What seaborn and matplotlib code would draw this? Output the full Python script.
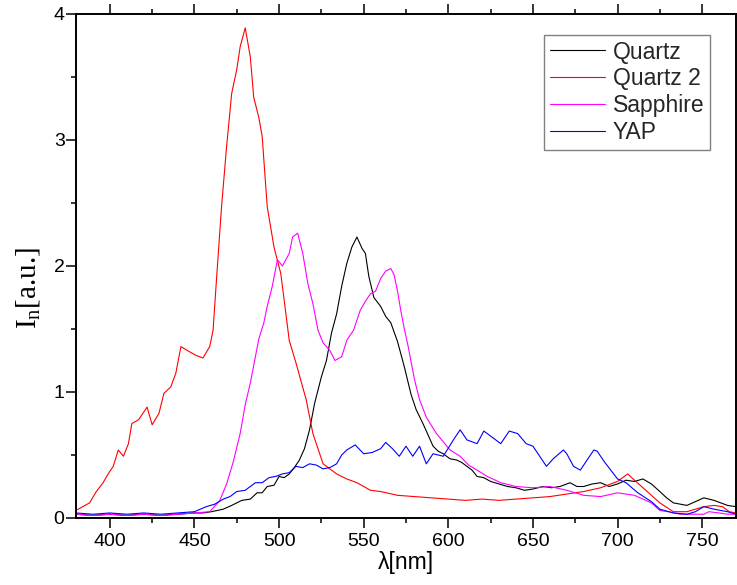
import numpy as np
import pandas as pd
import matplotlib
matplotlib.use("Agg")
import matplotlib.pyplot as plt
import seaborn as sns
from matplotlib.ticker import MultipleLocator

# ---------------- data ----------------
quartz_wl = [380, 390, 400, 410, 420, 430, 440, 450, 455, 460,
             467, 472, 478, 483, 487, 490, 493, 497, 500, 503,
             506, 509, 512, 515, 518, 521, 525, 528, 531, 534,
             537, 540, 543, 546, 549, 551, 553, 556, 560, 563,
             566, 570, 574, 578, 581, 585, 588, 591, 594, 597,
             601, 605, 608, 611, 614, 617, 621, 625, 630, 635,
             640, 645, 650, 656, 661, 666, 672, 676, 680, 685,
             690, 695, 700, 705, 710, 715, 720, 725, 729, 733,
             737, 741, 746, 751, 754, 757, 761, 765, 770]
quartz_I = [0.03, 0.02, 0.03, 0.02, 0.03, 0.02, 0.03, 0.04, 0.04, 0.05,
            0.07, 0.10, 0.14, 0.15, 0.20, 0.20, 0.25, 0.26, 0.33, 0.32,
            0.35, 0.40, 0.46, 0.55, 0.70, 0.91, 1.12, 1.25, 1.47, 1.62,
            1.84, 2.02, 2.15, 2.23, 2.14, 2.10, 1.92, 1.75, 1.68, 1.60,
            1.55, 1.40, 1.20, 0.98, 0.86, 0.75, 0.66, 0.57, 0.53, 0.51,
            0.47, 0.46, 0.44, 0.41, 0.38, 0.33, 0.32, 0.29, 0.27, 0.25,
            0.24, 0.22, 0.23, 0.25, 0.24, 0.25, 0.28, 0.25, 0.25, 0.27,
            0.28, 0.25, 0.27, 0.30, 0.29, 0.31, 0.27, 0.21, 0.16, 0.12,
            0.11, 0.10, 0.13, 0.16, 0.15, 0.14, 0.12, 0.10, 0.09]

quartz2_wl = [380, 384, 388, 392, 396, 399, 402, 405, 408, 411,
              413, 417, 422, 425, 429, 432, 436, 439, 442, 447,
              451, 455, 459, 461, 463, 466, 469, 472, 475, 477,
              480, 483, 485, 488, 490, 493, 495, 497, 501, 503,
              506, 510, 516, 520, 526, 534, 540, 546, 554, 560,
              570, 580, 590, 600, 610, 620, 630, 640, 650, 660,
              670, 680, 690, 700, 706, 710, 715, 720, 725, 733,
              741, 746, 751, 757, 762, 766, 770]
quartz2_I = [0.06, 0.09, 0.12, 0.21, 0.28, 0.35, 0.41, 0.54, 0.49, 0.59,
             0.75, 0.78, 0.88, 0.74, 0.83, 0.99, 1.04, 1.15, 1.36, 1.32,
             1.29, 1.27, 1.36, 1.49, 1.89, 2.47, 2.95, 3.37, 3.56, 3.74,
             3.89, 3.66, 3.34, 3.18, 3.03, 2.47, 2.31, 2.15, 1.94, 1.73,
             1.41, 1.23, 0.94, 0.67, 0.43, 0.35, 0.31, 0.28, 0.22, 0.21,
             0.18, 0.17, 0.16, 0.15, 0.14, 0.15, 0.14, 0.15, 0.16, 0.17,
             0.19, 0.21, 0.24, 0.29, 0.35, 0.30, 0.24, 0.18, 0.12, 0.05,
             0.05, 0.07, 0.09, 0.10, 0.09, 0.05, 0.04]

sapphire_wl = [380, 390, 400, 410, 420, 430, 440, 450, 459, 465,
               469, 473, 477, 480, 483, 488, 491, 493, 496, 499,
               502, 506, 508, 511, 514, 517, 520, 523, 526, 530,
               533, 537, 540, 544, 548, 551, 554, 557, 560, 563,
               566, 568, 570, 572, 574, 576, 580, 583, 587, 593,
               601, 607, 612, 617, 623, 631, 640, 650, 660, 670,
               680, 690, 700, 710, 720, 725, 730, 737, 745, 751,
               754, 760, 765, 770]
sapphire_I = [0.03, 0.02, 0.03, 0.02, 0.03, 0.02, 0.03, 0.04, 0.05, 0.14,
              0.27, 0.45, 0.67, 0.90, 1.07, 1.42, 1.55, 1.68, 1.84, 2.05,
              2.00, 2.10, 2.23, 2.26, 2.10, 1.86, 1.70, 1.49, 1.39, 1.33,
              1.25, 1.28, 1.41, 1.49, 1.65, 1.72, 1.78, 1.80, 1.90, 1.96,
              1.98, 1.93, 1.80, 1.64, 1.50, 1.38, 1.10, 0.94, 0.80, 0.67,
              0.54, 0.49, 0.42, 0.38, 0.33, 0.28, 0.25, 0.24, 0.25, 0.22,
              0.18, 0.17, 0.20, 0.18, 0.12, 0.06, 0.05, 0.03, 0.03, 0.03,
              0.05, 0.04, 0.03, 0.03]

yap_wl = [380, 390, 400, 410, 420, 430, 440, 450, 457, 462,
          467, 471, 475, 480, 486, 490, 494, 498, 502, 506,
          510, 514, 518, 522, 526, 530, 534, 537, 540, 545,
          550, 555, 560, 563, 567, 571, 575, 579, 583, 587,
          591, 597, 603, 607, 611, 617, 621, 625, 631, 636,
          641, 646, 650, 654, 658, 662, 668, 670, 674, 678,
          682, 686, 688, 692, 696, 700, 705, 712, 720, 725,
          733, 741, 746, 751, 757, 765, 770]
yap_I = [0.04, 0.03, 0.04, 0.03, 0.04, 0.03, 0.04, 0.05, 0.09, 0.11,
         0.15, 0.17, 0.21, 0.22, 0.28, 0.28, 0.32, 0.33, 0.35, 0.36,
         0.41, 0.40, 0.43, 0.42, 0.39, 0.40, 0.43, 0.50, 0.54, 0.58,
         0.51, 0.52, 0.55, 0.60, 0.55, 0.49, 0.57, 0.49, 0.57, 0.43,
         0.51, 0.49, 0.62, 0.70, 0.62, 0.59, 0.69, 0.65, 0.59, 0.69,
         0.67, 0.59, 0.57, 0.49, 0.41, 0.47, 0.54, 0.51, 0.41, 0.38,
         0.46, 0.54, 0.53, 0.45, 0.38, 0.31, 0.28, 0.20, 0.13, 0.07,
         0.04, 0.03, 0.05, 0.09, 0.07, 0.05, 0.03]

labels = ["Quartz", "Quartz 2", "Sapphire", "YAP"]
colors = ["#000000", "#ff0000", "#ff00ff", "#0000ff"]

# ---------------- build long-form table ----------------
frames = []
for lab, wl, val in zip(labels,
                        [quartz_wl, quartz2_wl, sapphire_wl, yap_wl],
                        [quartz_I, quartz2_I, sapphire_I, yap_I]):
    frames.append(pd.DataFrame({"wl": wl, "I": val, "sample": lab}))
df = pd.concat(frames, ignore_index=True)

# ---------------- plot ----------------
sns.set_theme(style="white")
plt.rcParams["font.family"] = ["Liberation Sans", "DejaVu Sans"]

fig = plt.figure(figsize=(7.37, 5.85), dpi=100)
ax = fig.add_axes([76 / 737, 1 - 518 / 585, (736 - 76) / 737, (518 - 14) / 585])

sns.lineplot(data=df, x="wl", y="I", hue="sample", hue_order=labels,
             palette=dict(zip(labels, colors)), estimator=None, sort=False,
             linewidth=0.8, ax=ax)

ax.set_xlim(380, 770)
ax.set_ylim(0, 4)

ax.xaxis.set_major_locator(MultipleLocator(50))
ax.xaxis.set_minor_locator(MultipleLocator(25))
ax.yaxis.set_major_locator(MultipleLocator(1))
ax.yaxis.set_minor_locator(MultipleLocator(0.5))

for s in ax.spines.values():
    s.set_color("black")
    s.set_linewidth(1.4)

ax.tick_params(axis="both", which="both", direction="out", color="black",
               width=1.1, bottom=True, left=True, top=True, right=False,
               labeltop=False, labelright=False)
ax.tick_params(which="major", length=7.2)
ax.tick_params(which="minor", length=3.6)
ax.tick_params(axis="x", which="major", labelsize=14, pad=3.5, labelcolor="black")
ax.tick_params(axis="y", which="major", labelsize=14, pad=1.0, labelcolor="black")

ax.set_xlabel("λ[nm]", fontsize=16.5, color="black", labelpad=1)
ax.set_ylabel(r"$\mathregular{I_n}$[a.u.]", fontsize=21, color="black",
              family=["Liberation Serif", "DejaVu Serif"])
ax.yaxis.set_label_coords(-0.052, 0.456)

handles, _ = ax.get_legend_handles_labels()
leg = ax.legend(handles=handles, labels=labels, loc="upper left",
                bbox_to_anchor=(544 / 737, 1 - 35 / 585),
                bbox_transform=fig.transFigure, borderaxespad=0,
                fontsize=16.5, frameon=True, fancybox=False, shadow=False,
                framealpha=1, edgecolor="#808080", borderpad=0.24,
                labelspacing=0.17, handlelength=2.43, handletextpad=0.32)
leg.get_frame().set_linewidth(1.0)
for line in leg.get_lines():
    line.set_linewidth(0.8)

fig.savefig("out.png", dpi=100, facecolor="white")
